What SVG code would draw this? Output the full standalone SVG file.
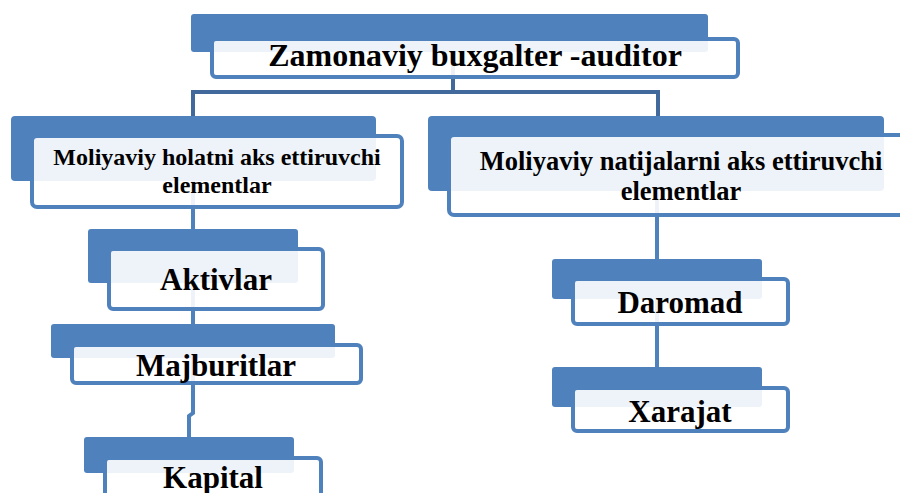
<svg xmlns="http://www.w3.org/2000/svg" width="900" height="493" viewBox="0 0 900 493">
<style>
.tab{fill:#4F81BD}
.box{fill:#FFFFFF;fill-opacity:0.9;stroke:#4F81BD;stroke-width:4}
.con{fill:none;stroke:#4F81BD;stroke-width:4}
.con2{fill:none;stroke:#41699C;stroke-width:4}
text{font-family:"Liberation Serif","Times New Roman",serif;font-weight:bold;fill:#000;text-anchor:middle}
.big{font-size:31px}
.mid{font-size:24px}
.mid2{font-size:26.5px}
</style>
<rect width="900" height="493" fill="#FFFFFF"/>
<g id="connectors">
<path class="con2" d="M453 52 V92 M193 117 V92 H658 V117"/>
<path class="con" d="M193 181 V229"/>
<path class="con" d="M193 283 V324"/>
<path class="con" d="M193 358 V413 L189 416 V437"/>
<path class="con" d="M657 191 V259"/>
<path class="con" d="M657 299 V367"/>
</g>
<g id="node-top">
<rect class="tab" x="191" y="14" width="517" height="38" rx="3"/>
<rect class="box" x="212" y="39" width="526" height="38" rx="4"/>
<text class="big" x="475" y="66" style="font-size:32px">Zamonaviy buxgalter -auditor</text>
</g>
<g id="node-left">
<rect class="tab" x="11" y="116" width="365" height="65" rx="4"/>
<rect class="box" x="32" y="136" width="370" height="71" rx="5"/>
<text class="mid" x="217" y="165">Moliyaviy holatni aks ettiruvchi</text>
<text class="mid" x="217" y="193">elementlar</text>
</g>
<g id="node-right">
<rect class="tab" x="428" y="116" width="456" height="75" rx="4"/>
<rect class="box" x="449" y="135" width="470" height="80" rx="5"/>
<text class="mid2" x="681" y="170">Moliyaviy natijalarni aks ettiruvchi</text>
<text class="mid2" x="681" y="200">elementlar</text>
</g>
<g id="node-aktivlar">
<rect class="tab" x="88" y="229" width="210" height="54" rx="3"/>
<rect class="box" x="109" y="249" width="214" height="60" rx="4"/>
<text class="big" x="216" y="290">Aktivlar</text>
</g>
<g id="node-majburitlar">
<rect class="tab" x="51" y="324" width="284" height="34" rx="3"/>
<rect class="box" x="72" y="345" width="289" height="38" rx="4"/>
<text class="big" x="216" y="376">Majburitlar</text>
</g>
<g id="node-kapital">
<rect class="tab" x="84" y="437" width="210" height="36" rx="3"/>
<rect class="box" x="105" y="458" width="216" height="50" rx="4"/>
<text class="big" x="213" y="488">Kapital</text>
</g>
<g id="node-daromad">
<rect class="tab" x="552" y="259" width="210" height="40" rx="3"/>
<rect class="box" x="573" y="279" width="215" height="45" rx="4"/>
<text class="big" x="680" y="313">Daromad</text>
</g>
<g id="node-xarajat">
<rect class="tab" x="552" y="367" width="210" height="40" rx="3"/>
<rect class="box" x="573" y="388" width="215" height="43" rx="4"/>
<text class="big" x="680" y="422">Xarajat</text>
</g>
</svg>
